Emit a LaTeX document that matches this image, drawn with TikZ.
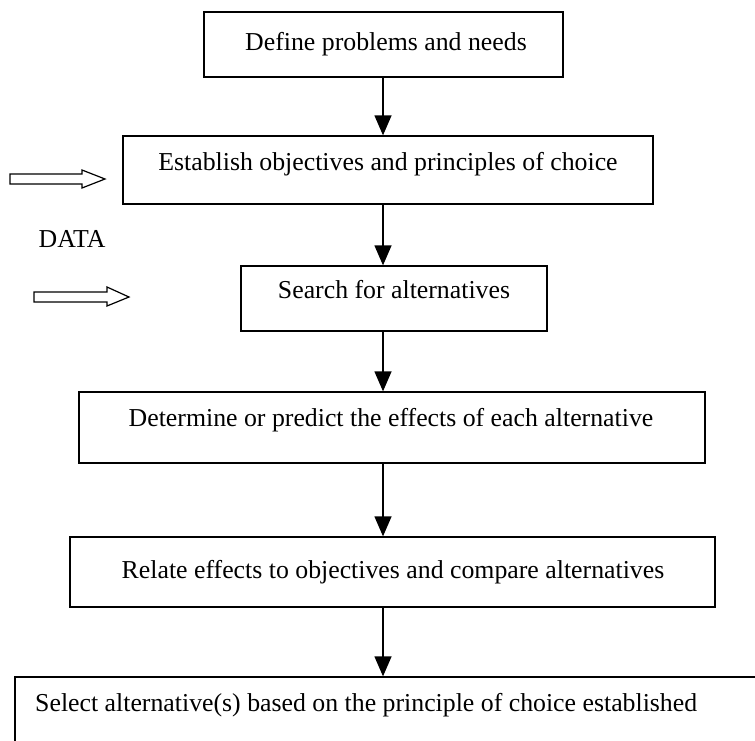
\documentclass[tikz,border=0pt]{standalone}
\usepackage{fontspec}
\setmainfont{Liberation Serif}
\usetikzlibrary{arrows.meta}
\begin{document}
\begin{tikzpicture}[x=1pt,y=-1pt,
  box/.style={draw, line width=1.3pt, inner sep=0pt},
  lbl/.style={anchor=base, inner sep=0pt, font=\fontsize{25.8}{30}\selectfont},
  flow/.style={line width=1.3pt, -{Triangle[length=20pt,width=17pt]}},
  hollow/.style={draw, line width=1.2pt, fill=white, line join=miter}]
\useasboundingbox (0,0) rectangle (755,740);
\clip (0,0) rectangle (755,740);
% boxes
\node[box, minimum width=359pt, minimum height=65pt] (b1) at (383.5,44.5) {};
\node[box, minimum width=530pt, minimum height=68pt] (b2) at (388,170) {};
\node[box, minimum width=306pt, minimum height=65pt] (b3) at (394,298.5) {};
\node[box, minimum width=626pt, minimum height=71pt] (b4) at (392,427.5) {};
\node[box, minimum width=645pt, minimum height=70pt] (b5) at (392.5,572) {};
\node[box, minimum width=760pt, minimum height=80pt] (b6) at (395,717) {};
% texts
\node[lbl] (t1) at (386,50) {Define problems and needs};
\node[lbl] (t2) at (388,170) {Establish objectives and principles of choice};
\node[lbl] (t3) at (394,298) {Search for alternatives};
\node[lbl] (t4) at (391,426) {Determine or predict the effects of each alternative};
\node[lbl] (t5) at (393,578) {Relate effects to objectives and compare alternatives};
\node[lbl, anchor=base west] (t6) at (35,711) {Select alternative(s) based on the principle of choice established};
\node[lbl] (data) at (72,247) {DATA};
% flow arrows
\coordinate (ax) at (383,0);
\draw[flow] (b1.south -| ax) -- (b2.north -| ax);
\draw[flow] (b2.south -| ax) -- (b3.north -| ax);
\draw[flow] (b3.south -| ax) -- (b4.north -| ax);
\draw[flow] (b4.south -| ax) -- (b5.north -| ax);
\draw[flow] (b5.south -| ax) -- (b6.north -| ax);
% hollow data arrows
\draw[hollow] (10,174) -- (82,174) -- (82,170) -- (105,179) -- (82,188) -- (82,184) -- (10,184) -- cycle;
\draw[hollow] (34,292) -- (107,292) -- (107,287) -- (129,297) -- (107,306) -- (107,302) -- (34,302) -- cycle;
\end{tikzpicture}
\end{document}
